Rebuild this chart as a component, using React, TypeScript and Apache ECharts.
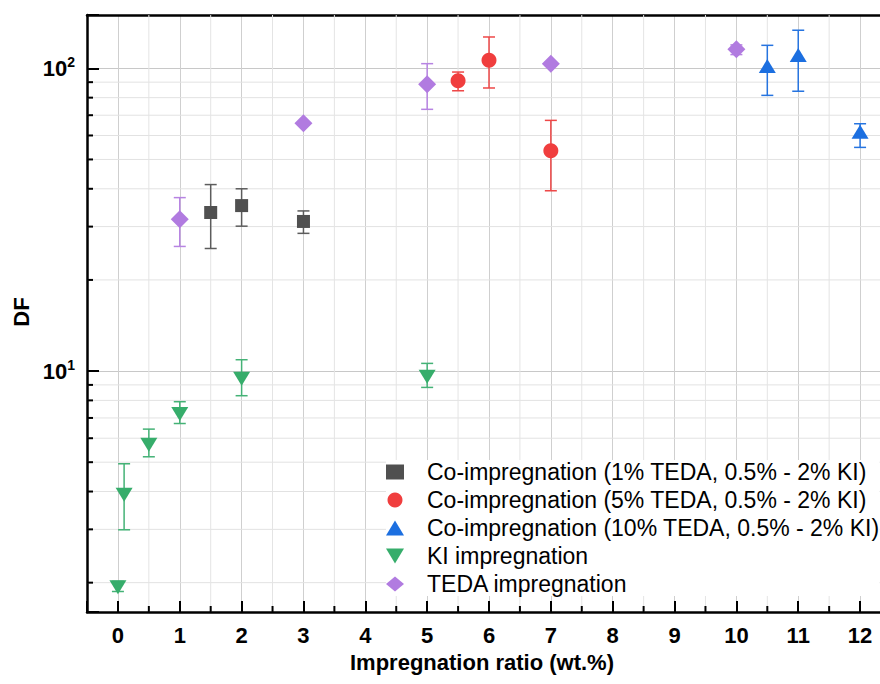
import React, { useEffect, useRef } from "react";
import * as echarts from "echarts";

// ---------- data ----------
const seriesNames = [
  "Co-impregnation (1% TEDA, 0.5% - 2% KI)",
  "Co-impregnation (5% TEDA, 0.5% - 2% KI)",
  "Co-impregnation (10% TEDA, 0.5% - 2% KI)",
  "KI impregnation",
  "TEDA impregnation",
];

const coImp1X = [1.5, 2, 3];
const coImp1Y = [33.4, 35.2, 31.2];
const coImp1Low = [25.4, 30.1, 28.5];
const coImp1High = [41.3, 40.0, 33.8];

const coImp5X = [5.5, 6, 7];
const coImp5Y = [91.0, 106.3, 53.4];
const coImp5Low = [84.3, 86.1, 39.4];
const coImp5High = [97.2, 126.9, 67.3];

const coImp10X = [10.5, 11, 12];
const coImp10Y = [101.8, 110.7, 61.7];
const coImp10Low = [81.4, 84.0, 54.8];
const coImp10High = [119.1, 133.6, 65.6];

const kiX = [0, 0.1, 0.5, 1, 2, 5];
const kiY = [1.93, 3.9, 5.71, 7.21, 9.44, 9.58];
const kiLow = [1.87, 2.99, 5.21, 6.71, 8.29, 8.83];
const kiHigh = [2.02, 4.94, 6.43, 7.92, 10.9, 10.6];

const tedaX = [1, 3, 5, 7, 10];
const tedaY = [31.7, 65.8, 88.5, 103.6, 115.6];
const tedaLow = [25.8, 65.0, 73.2, 102.0, 111.0];
const tedaHigh = [37.4, 66.6, 103.6, 105.0, 119.5];

const xMin = -0.5;
const xMax = 12.5;
const yMin = 1.6;
const yMax = 150;
const xMinorTicks = [0.5, 1.5, 2.5, 3.5, 4.5, 5.5, 6.5, 7.5, 8.5, 9.5, 10.5, 11.5];
const yMinorTicks = [2, 3, 4, 5, 6, 7, 8, 9, 20, 30, 40, 50, 60, 70, 80, 90];

const colors = ["#505050", "#f03e3e", "#1c6fe0", "#36ad6b", "#b17be0"];
const barColors = ["#5c5c5c", "#ee4848", "#2674e0", "#44b276", "#b784e2"];

const FONT = "'Liberation Sans', Arial, Helvetica, sans-serif";

const groups = [
  { x: coImp1X, y: coImp1Y, lo: coImp1Low, hi: coImp1High, symbol: "rect", size: 13, rotate: 0 },
  { x: coImp5X, y: coImp5Y, lo: coImp5Low, hi: coImp5High, symbol: "circle", size: 15, rotate: 0 },
  { x: coImp10X, y: coImp10Y, lo: coImp10Low, hi: coImp10High, symbol: "triangle", size: [17, 14], rotate: 0 },
  { x: kiX, y: kiY, lo: kiLow, hi: kiHigh, symbol: "triangle", size: [17, 14], rotate: 180 },
  { x: tedaX, y: tedaY, lo: tedaLow, hi: tedaHigh, symbol: "diamond", size: [18, 18], rotate: 0 },
];

const legendIcons = ["rect", "circle", "triangle", "path://M0,0L17,0L8.5,14Z", "diamond"];

export default function App() {
  const ref = useRef<HTMLDivElement>(null);

  useEffect(() => {
    if (!ref.current) return;
    const chart = echarts.init(ref.current, undefined, { renderer: "svg" });

    const errorSeries = groups.map((g, gi) => ({
      type: "custom",
      name: "err" + gi,
      silent: true,
      z: 3,
      encode: { x: 0, y: [1, 2] },
      data: g.x.map((x, i) => [x, g.lo[i], g.hi[i]]),
      renderItem: (params: any, api: any) => {
        const x = api.value(0);
        const top = api.coord([x, api.value(2)]);
        const bot = api.coord([x, api.value(1)]);
        const hw = 6;
        const style = { stroke: barColors[gi], lineWidth: 1.5 };
        return {
          type: "group",
          children: [
            { type: "line", shape: { x1: top[0], y1: top[1], x2: bot[0], y2: bot[1] }, style },
            { type: "line", shape: { x1: top[0] - hw, y1: top[1], x2: top[0] + hw, y2: top[1] }, style },
            { type: "line", shape: { x1: bot[0] - hw, y1: bot[1], x2: bot[0] + hw, y2: bot[1] }, style },
          ],
        };
      },
    }));

    const scatterSeries = groups.map((g, gi) => ({
      type: "scatter",
      name: seriesNames[gi],
      z: 5,
      symbol: g.symbol,
      symbolSize: g.size,
      symbolRotate: g.rotate,
      itemStyle: { color: colors[gi], opacity: 1 },
      data: g.x.map((x, i) => [x, g.y[i]]),
    }));

    const yMinorSeries = {
      type: "custom",
      name: "yMinor",
      silent: true,
      z: 1,
      data: yMinorTicks.map((v) => [0, v]),
      encode: { x: 0, y: 1 },
      renderItem: (params: any, api: any) => {
        const cs = params.coordSys;
        const y = api.coord([0, api.value(1)])[1];
        return {
          type: "group",
          children: [
            { type: "line", shape: { x1: cs.x, y1: y, x2: cs.x + cs.width, y2: y }, style: { stroke: "#e2e2e2", lineWidth: 1 } },
            { type: "line", shape: { x1: cs.x, y1: y, x2: cs.x + 6, y2: y }, style: { stroke: "#000", lineWidth: 2 } },
          ],
        };
      },
    };

    const xMinorSeries = {
      type: "custom",
      name: "xMinor",
      silent: true,
      z: 1,
      data: xMinorTicks.map((v) => [v, 10]),
      encode: { x: 0, y: 1 },
      renderItem: (params: any, api: any) => {
        const cs = params.coordSys;
        const x = api.coord([api.value(0), 10])[0];
        const yb = cs.y + cs.height;
        return {
          type: "group",
          children: [
            { type: "line", shape: { x1: x, y1: cs.y, x2: x, y2: yb }, style: { stroke: "#e4e4e4", lineWidth: 1 } },
            { type: "line", shape: { x1: x, y1: yb, x2: x, y2: yb - 6 }, style: { stroke: "#000", lineWidth: 2 } },
          ],
        };
      },
    };

    const axisLine = { show: true, onZero: false, lineStyle: { color: "#000", width: 2.5 } };

    chart.setOption({
      animation: false,
      backgroundColor: "#fff",
      textStyle: { fontFamily: FONT },
      grid: { left: 87, top: 15, width: 804, height: 597, containLabel: false, outerBoundsMode: "none" },
      xAxis: [
        {
          type: "value",
          min: xMin,
          max: xMax,
          splitNumber: 13,
          minInterval: 1,
          maxInterval: 1,
          axisLine,
          axisTick: { show: true, inside: true, length: 11, lineStyle: { color: "#000", width: 2 } },
          axisLabel: {
            margin: 12,
            fontSize: 22,
            fontWeight: "bold",
            color: "#000",
            fontFamily: FONT,
            formatter: (v: number) => (Math.abs(v - Math.round(v)) < 1e-9 ? String(Math.round(v)) : ""),
          },
          splitLine: { show: true, lineStyle: { color: "#cfcfcf", width: 1 } },
        },
        {
          type: "value",
          position: "top",
          min: xMin,
          max: xMax,
          axisLine,
          axisTick: { show: false },
          axisLabel: { show: false },
          splitLine: { show: false },
        },
      ],
      yAxis: {
        type: "log",
        logBase: 10,
        min: yMin,
        max: yMax,
        axisLine,
        axisTick: { show: true, inside: true, length: 12, lineStyle: { color: "#000", width: 2 } },
        axisLabel: {
          margin: 12,
          color: "#000",
          formatter: (v: number) => {
            const e = Math.log10(v);
            if (Math.abs(e - Math.round(e)) < 1e-6) return `{b|10}{s|${Math.round(e)}}`;
            return "";
          },
          rich: {
            b: { fontSize: 22, fontWeight: "bold", fontFamily: FONT, color: "#000", lineHeight: 26 },
            s: { fontSize: 14, fontWeight: "bold", fontFamily: FONT, color: "#000", lineHeight: 14, verticalAlign: "top" },
          },
        },
        splitLine: { show: true, lineStyle: { color: "#c8c8c8", width: 1 } },
      },
      legend: {
        orient: "vertical",
        left: 386,
        top: 460,
        itemWidth: 18,
        itemHeight: 15,
        itemGap: 4,
        padding: 0,
        backgroundColor: "#fff",
        textStyle: { fontSize: 23, fontFamily: FONT, color: "#000", lineHeight: 24, padding: [0, 0, 0, 18] },
        data: seriesNames.map((n, i) => ({ name: n, icon: legendIcons[i] })),
      },
      graphic: [
        {
          type: "text",
          x: 482,
          y: 662,
          style: {
            text: "Impregnation ratio (wt.%)",
            fontSize: 22,
            fontWeight: "bold",
            fontFamily: FONT,
            fill: "#000",
            align: "center",
            verticalAlign: "middle",
          },
        },
        {
          type: "text",
          x: 21,
          y: 312,
          rotation: Math.PI / 2,
          style: {
            text: "DF",
            fontSize: 22,
            fontWeight: "bold",
            fontFamily: FONT,
            fill: "#000",
            align: "center",
            verticalAlign: "middle",
          },
        },
      ],
      series: [yMinorSeries, xMinorSeries, ...errorSeries, ...scatterSeries],
    });

    return () => chart.dispose();
  }, []);

  return (
    <div
      ref={ref}
      style={{ position: "absolute", left: 0, top: 0, width: 880, height: 684, background: "#fff" }}
    />
  );
}
